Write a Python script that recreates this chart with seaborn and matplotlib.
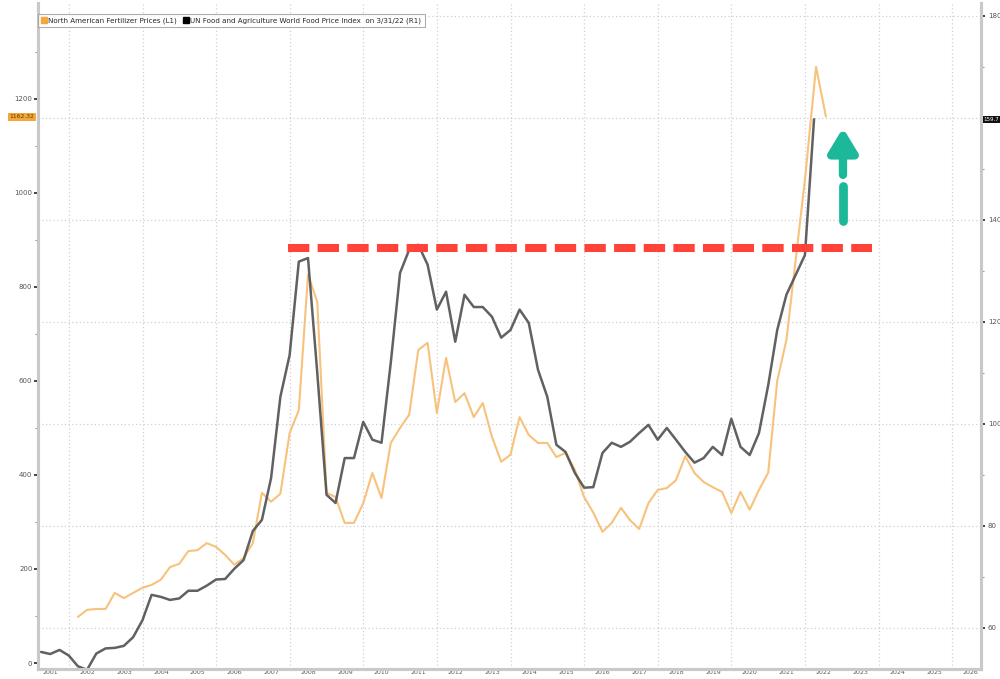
import numpy as np
import pandas as pd
import matplotlib
matplotlib.use("Agg")
import matplotlib.pyplot as plt
import matplotlib.transforms as mtransforms
from matplotlib.lines import Line2D
from matplotlib.ticker import MultipleLocator, FixedLocator, NullFormatter, FuncFormatter
import seaborn as sns

# UN FAO World Food Price Index (R1), quarterly, 2001-03-31 .. 2022-03-31
fao_dates = pd.date_range("2001-03-31", "2022-03-31", freq="QE")
fao_index = [
    55.3, 54.9, 55.7, 54.6, 52.5, 51.8, 55.0, 56.0, 56.1, 56.5, 58.2, 61.5,
    66.5, 66.1, 65.5, 65.8, 67.3, 67.3, 68.3, 69.5, 69.6, 71.6, 73.3, 79.0,
    81.2, 89.4, 105.3, 113.5, 131.8, 132.5, 110.0, 86.1, 84.5, 93.3, 93.3, 100.4,
    96.9, 96.3, 112.0, 129.6, 134.1, 135.1, 131.2, 122.4, 125.9, 116.1, 125.3, 122.9,
    122.9, 121.0, 116.9, 118.4, 122.4, 119.8, 110.6, 105.3, 95.9, 94.5, 90.4, 87.5,
    87.6, 94.3, 96.3, 95.5, 96.5, 98.2, 99.8, 96.9, 99.2, 96.9, 94.5, 92.4,
    93.3, 95.5, 93.9, 101.0, 95.5, 93.9, 98.2, 107.6, 118.4, 125.3, 129.2, 133.1,
    159.7,
]

# North American fertilizer prices (L1), quarterly 2002-03-31 .. 2021-12-31 plus 2022 points
fert_dates = list(pd.date_range("2002-03-31", "2021-12-31", freq="QE")) + \
    list(pd.to_datetime(["2022-04-20", "2022-07-27"]))
fert_prices = [
    98, 113, 115, 115, 149, 138, 149, 160, 166, 177, 204, 211,
    238, 240, 255, 247, 230, 209, 223, 255, 362, 343, 360, 489,
    538, 826, 768, 362, 353, 298, 298, 340, 404, 351, 468, 500,
    528, 666, 681, 532, 649, 555, 574, 523, 553, 481, 428, 443,
    523, 485, 468, 468, 438, 447, 411, 353, 320, 279, 298, 330,
    304, 285, 340, 368, 372, 389, 440, 404, 385, 374, 364, 319,
    364, 326, 368, 405, 600, 687, 857, 1028, 1268, 1162.32,
]

years = list(range(2001, 2027))
left_ticks = [0, 200, 400, 600, 800, 1000, 1200]
ref_level = 134.5          # previous FAO peak (R1 scale)
last_fert = "1162.32"
last_fao = "159.7"


def dec_year(d):
    return d.year + (d.dayofyear - 1) / 365.25


fao = pd.DataFrame({"t": [dec_year(d) for d in fao_dates], "v": fao_index})
fert = pd.DataFrame({"t": [dec_year(d) for d in fert_dates], "v": fert_prices})

sns.set_style("white")
plt.rcParams["font.family"] = ["DejaVu Sans"]

fig = plt.figure(figsize=(10, 6.79), dpi=100)
ax = fig.add_axes([0.038, 0.0147, 0.943, 0.981])
ax2 = ax.twinx()

orange = "#f7c27c"
grey = "#505050"
spine_c = "#c9c9c9"

# vertical dotted grid every two years
for yr in range(2002, 2027, 2):
    ax.axvline(yr, color="#d0d0d0", lw=0.9, ls=(0, (1, 2)), zorder=0)

sns.lineplot(data=fert, x="t", y="v", ax=ax, color=orange, lw=1.5, estimator=None)
sns.lineplot(data=fao, x="t", y="v", ax=ax2, color=grey, lw=1.8, alpha=0.9, estimator=None)

ax.set_xlim(2001.16, 2026.78)
ax.set_ylim(-12.8, 1404)
ax2.set_ylim(51.96, 182.5)

# horizontal dotted grid from right axis
ax2.yaxis.grid(True, which="major", color="#d0d0d0", lw=0.9, ls=(0, (1, 2)))
ax.grid(False)

# reference line and arrow
teal = "#1bb99a"
ax2.plot([2007.95, 2023.82], [ref_level, ref_level], color="#ff4338", lw=5.8,
         dashes=(2.65, 1.03), dash_capstyle="butt", zorder=5)
ax2.annotate("", xy=(2023.03, 158.0), xytext=(2023.03, 148.8),
             arrowprops=dict(arrowstyle="-|>,head_length=1.4,head_width=0.85",
                             lw=6, color=teal, shrinkA=0, shrinkB=0,
                             joinstyle="round", capstyle="round"), zorder=6)
ax2.plot([2023.03, 2023.03], [139.8, 146.6], color=teal, lw=6.3,
         solid_capstyle="round", zorder=6)

# axes labels / ticks
for a in (ax, ax2):
    a.set_xlabel("")
    a.set_ylabel("")
    for s in ("left", "right", "bottom"):
        a.spines[s].set_color(spine_c)
        a.spines[s].set_linewidth(2.2)
    a.spines["top"].set_visible(False)

ax.yaxis.set_major_locator(FixedLocator(left_ticks))
ax.yaxis.set_minor_locator(FixedLocator([v + 100 for v in left_ticks]))
ax2.yaxis.set_major_locator(MultipleLocator(20))
ax2.yaxis.set_minor_locator(MultipleLocator(10))
# the last-value tag sits where the 160 label would be
ax2.yaxis.set_major_formatter(FuncFormatter(lambda v, p: "" if round(v) == 160 else f"{v:.0f}"))
ax.tick_params(axis="y", which="major", direction="out", length=3, width=1.2,
               color="#222222", labelsize=5, labelcolor="#555555", pad=1)
ax.tick_params(axis="y", which="minor", direction="out", length=2, width=0.8, color="#999999")
ax2.tick_params(axis="y", which="major", direction="out", length=3, width=1.2,
                color="#222222", labelsize=5, labelcolor="#555555", pad=2)
ax2.tick_params(axis="y", which="minor", direction="out", length=2, width=0.8, color="#999999")

ax.xaxis.set_major_locator(FixedLocator(years))
ax.xaxis.set_major_formatter(NullFormatter())
ax.xaxis.set_minor_locator(FixedLocator([y + 0.5 for y in years]))
ax.set_xticklabels([str(y) for y in years], minor=True)
ax.tick_params(axis="x", which="major", direction="out", length=5, width=0.8, color="#aaaaaa")
ax.tick_params(axis="x", which="minor", length=0, labelsize=4.5, labelcolor="#555555", pad=1)

# last value tags
tl = mtransforms.blended_transform_factory(ax.transAxes, ax.transData)
ax.text(-0.004, float(last_fert), last_fert, transform=tl, ha="right", va="center",
        fontsize=4.3, color="#5a3a00",
        bbox=dict(boxstyle="square,pad=0.25", fc="#f5a83a", ec="none"), clip_on=False)
tr = mtransforms.blended_transform_factory(ax2.transAxes, ax2.transData)
ax2.text(1.003, float(last_fao), last_fao, transform=tr, ha="left", va="center",
         fontsize=4.0, color="white",
         bbox=dict(boxstyle="square,pad=0.2", fc="#111111", ec="none"), clip_on=False)

handles = [
    Line2D([], [], marker="s", ls="none", color="#f5a83a", markersize=4.5),
    Line2D([], [], marker="s", ls="none", color="black", markersize=4.5),
]
labels = ["North American Fertilizer Prices (L1)",
          "UN Food and Agriculture World Food Price Index  on 3/31/22 (R1)"]
leg = ax2.legend(handles, labels, loc="upper left", bbox_to_anchor=(0.0, 0.984),
                 ncol=2, fontsize=5.1, frameon=True, fancybox=False, edgecolor="#999999",
                 handlelength=0.6, handletextpad=0.3, columnspacing=1.0, borderpad=0.5,
                 borderaxespad=0)
leg.get_frame().set_linewidth(0.8)
leg.set_zorder(10)

fig.savefig("out.png", dpi=100, facecolor="white")
